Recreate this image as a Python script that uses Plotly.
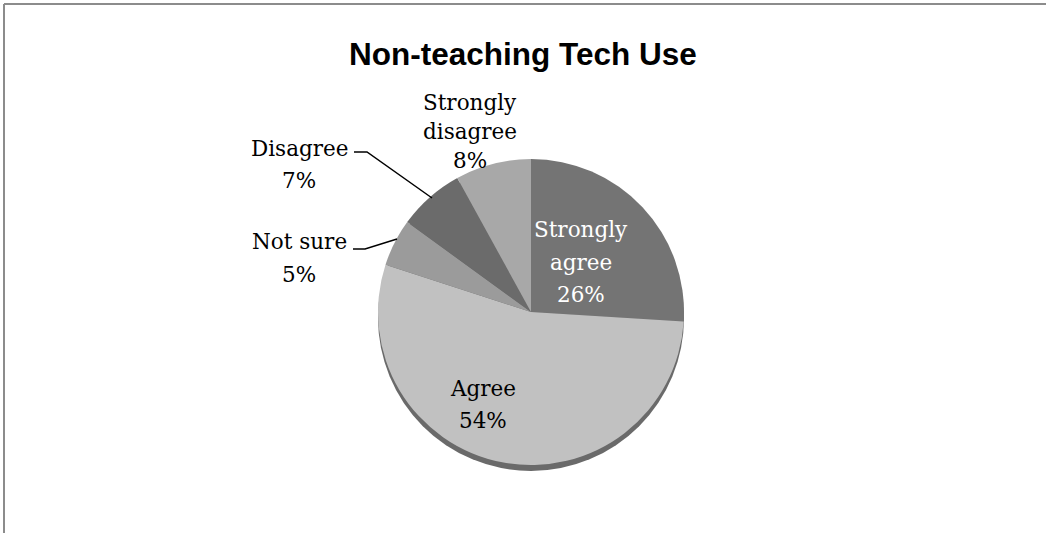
import plotly.graph_objects as go

# Survey responses, clockwise from 12 o'clock
labels = ["Strongly agree", "Agree", "Not sure", "Disagree", "Strongly disagree"]
percents = [26, 54, 5, 7, 8]
colors = ["#747474", "#c1c1c1", "#9b9b9b", "#6b6b6b", "#a8a8a8"]
text_colors = ["white", "black", "black", "black", "black"]

W, H = 1046, 533


def px(x):
    return x / W


def py(y):
    return 1 - y / H


# pie geometry in pixels
cx, cy, r = 531, 312, 153

fig = go.Figure(
    go.Pie(
        labels=labels,
        values=percents,
        sort=False,
        direction="clockwise",
        rotation=0,
        marker=dict(colors=colors, line=dict(width=0)),
        textinfo="none",
        hoverinfo="label+percent",
        showlegend=False,
        domain=dict(x=[px(cx - 200), px(cx + 200)], y=[py(cy + r), py(cy - r)]),
    )
)

# label blocks: pixel centre and line spacing
label_pos = [(581, 262), (483, 404), (299, 258), (299, 164), (470, 131)]
line_gap = [32, 32, 32, 32, 29]
annotations = []
for lab, pct, (x, y), tc, gap in zip(labels, percents, label_pos, text_colors, line_gap):
    if lab.startswith("Strongly "):
        lines = lab.split(" ", 1) + [f"{pct}%"]
    else:
        lines = [lab, f"{pct}%"]
    n = len(lines)
    for i, line in enumerate(lines):
        ly = y + (i - (n - 1) / 2) * gap
        annotations.append(
            dict(
                x=px(x), y=py(ly), xref="paper", yref="paper",
                xanchor="center", yanchor="middle",
                text=line, showarrow=False,
                font=dict(family="DejaVu Serif", size=21.5, color=tc),
            )
        )

annotations.append(
    dict(
        x=px(523), y=py(54), xref="paper", yref="paper",
        xanchor="center", yanchor="middle",
        text="<b>Non-teaching Tech Use</b>", showarrow=False,
        font=dict(family="Liberation Sans, Arial", size=31.5, color="black"),
    )
)


def path(points):
    return "M " + " L ".join(f"{px(a)},{py(b)}" for a, b in points)


shapes = [
    # rim of the tilted pie
    dict(type="circle", xref="paper", yref="paper", layer="below",
         x0=px(cx - r), x1=px(cx + r), y0=py(cy + r + 6), y1=py(cy - r + 6),
         fillcolor="#6a6a6a", line=dict(width=0)),
    # leader lines
    dict(type="path", xref="paper", yref="paper",
         path=path([(354, 152), (367, 152), (432, 198)]),
         line=dict(color="black", width=1.5)),
    dict(type="path", xref="paper", yref="paper",
         path=path([(353, 249), (365, 249), (397, 239)]),
         line=dict(color="black", width=1.5)),
    # chart frame
    dict(type="line", xref="paper", yref="paper",
         x0=px(4), x1=1.0, y0=py(4), y1=py(4),
         line=dict(color="#8c8c8c", width=2)),
    dict(type="line", xref="paper", yref="paper",
         x0=px(4), x1=px(4), y0=py(4), y1=0.0,
         line=dict(color="#8c8c8c", width=2)),
]

fig.update_layout(
    width=W, height=H,
    margin=dict(l=0, r=0, t=0, b=0),
    paper_bgcolor="white", plot_bgcolor="white",
    annotations=annotations,
    shapes=shapes,
)

fig.write_html("out.html")
